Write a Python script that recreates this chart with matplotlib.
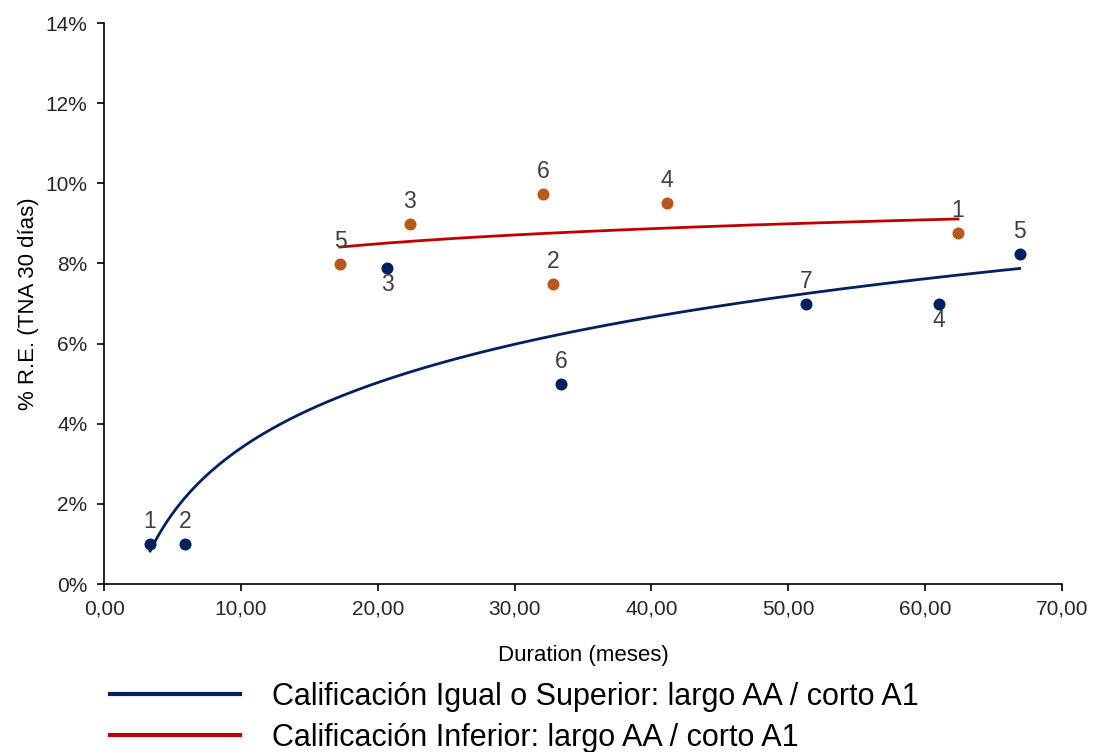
import matplotlib
matplotlib.use("Agg")
import matplotlib.pyplot as plt
import matplotlib.ticker as mticker
import numpy as np

plt.rcParams['font.family'] = ['Liberation Sans', 'DejaVu Sans']

# puntos calificacion igual o superior
sup_dur = [3.36, 5.92, 20.67, 33.4, 51.3, 61.0, 66.9]
sup_re = [1.0, 1.0, 7.89, 4.99, 6.99, 6.99, 8.24]
sup_lab = ['1', '2', '3', '6', '7', '4', '5']
sup_pos = ['up', 'up', 'down', 'up', 'up', 'down', 'up']

# puntos calificacion inferior
inf_dur = [17.24, 22.35, 32.1, 32.8, 41.1, 62.4]
inf_re = [7.99, 8.98, 9.73, 7.49, 9.51, 8.76]
inf_lab = ['5', '3', '6', '2', '4', '1']

azul = '#002060'
naranja = '#B55A1A'
rojo = '#C00000'

fig = plt.figure(figsize=(10.96, 7.52), dpi=100)
ax = fig.add_axes([0.095, 0.2234, 0.874, 0.746])

def tendencia(x, y):
    x = np.array(x); y = np.array(y)
    b, a = np.polyfit(np.log(x), y, 1)
    xs = np.linspace(x.min(), x.max(), 200)
    return xs, a + b * np.log(xs)

xs, ys = tendencia(sup_dur, sup_re)
l1, = ax.plot(xs, ys, color=azul, lw=2, zorder=2)
xs, ys = tendencia(inf_dur, inf_re)
l2, = ax.plot(xs, ys, color=rojo, lw=2, zorder=2)

ax.scatter(sup_dur, sup_re, s=75, color=azul, zorder=3, linewidths=0)
ax.scatter(inf_dur, inf_re, s=75, color=naranja, zorder=3, linewidths=0)

for x, y, t, p in zip(sup_dur, sup_re, sup_lab, sup_pos):
    dy = 8 if p == 'up' else -4
    ax.annotate(t, (x, y), xytext=(0, dy), textcoords='offset points',
                ha='center', va='bottom' if p == 'up' else 'top',
                fontsize=16.5, color='#404040')
for x, y, t in zip(inf_dur, inf_re, inf_lab):
    ax.annotate(t, (x, y), xytext=(0, 8), textcoords='offset points',
                ha='center', va='bottom', fontsize=16.5, color='#404040')

ax.set_xlim(0, 70)
ax.set_ylim(0, 14)
ax.set_xticks(np.arange(0, 71, 10))
ax.set_yticks(np.arange(0, 15, 2))
ax.xaxis.set_major_formatter(mticker.FuncFormatter(lambda v, p: f"{v:.2f}".replace('.', ',')))
ax.yaxis.set_major_formatter(mticker.FuncFormatter(lambda v, p: f"{v:.0f}%"))
ax.tick_params(labelsize=15, direction='out', length=5, width=1.2, labelcolor='#262626')
ax.tick_params(axis='y', pad=7)
ax.tick_params(axis='x', pad=6)
for s in ['top', 'right']:
    ax.spines[s].set_visible(False)
for s in ['left', 'bottom']:
    ax.spines[s].set_linewidth(1.2)

ax.set_xlabel("Duration (meses)", fontsize=16, labelpad=19)
ax.set_ylabel("% R.E. (TNA 30 días)", fontsize=16, labelpad=5)

leg = fig.legend([l1, l2],
                 ["Calificación Igual o Superior: largo AA / corto A1",
                  "Calificación Inferior: largo AA / corto A1"],
                 loc='upper left', bbox_to_anchor=(0.1004, 0.0935), frameon=False,
                 fontsize=22, handlelength=4.25, handletextpad=1.05,
                 labelspacing=0.36, borderpad=0, borderaxespad=0)
for h in leg.get_lines():
    h.set_linewidth(3)

fig.savefig("out.png", dpi=100)
